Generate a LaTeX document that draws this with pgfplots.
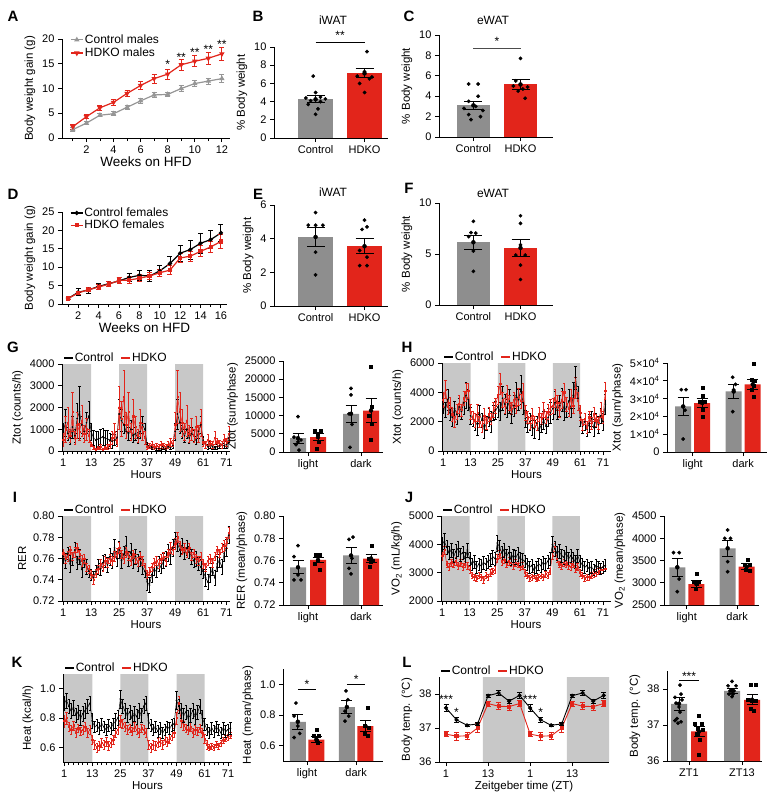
\documentclass[border=0pt]{standalone}
\usepackage{fontspec}
\setmainfont{Liberation Sans}
\usepackage{pgfplots}
\usepackage{pgfplotstable}
\pgfplotsset{compat=1.18}
\definecolor{myred}{RGB}{226,37,27}
\definecolor{bargray}{RGB}{142,142,142}
\definecolor{shadegray}{RGB}{200,200,200}
\definecolor{lgray}{RGB}{150,150,150}

\pgfplotsset{
  base/.style={scale only axis, anchor=south west, axis lines=left,
    axis line style={-, line width=0.9pt, black},
    tick align=outside, major tick length=4pt, minor tick length=3pt,
    tick style={black, line width=0.8pt},
    tick label style={font=\fontsize{11}{12}\selectfont},
    label style={font=\fontsize{11.5}{13}\selectfont},
    /pgf/number format/assume math mode=true, /pgf/number format/1000 sep={},
    scaled ticks=false, enlargelimits=false,
    xlabel style={yshift=3pt}},
  tslegend/.style={legend columns=2,
    legend style={at={(0,1)}, anchor=south west, xshift=1pt, draw=none, fill=none, inner sep=0pt,
      font=\fontsize{12}{13}\selectfont, /tikz/every even column/.append style={column sep=6pt},
      nodes={inner sep=1pt}},
    legend image code/.code={\draw[#1, line width=1.6pt] (0pt,0pt) -- (9pt,0pt);}},
  ts/.style={base, tslegend, axis on top, xmin=0.5, xtick={1,13,25,37,49,61,71},
    minor xtick={3,5,...,71}, xlabel={Hours}},
  ctl/.style={black, line width=0.5pt, mark=*, mark size=0.6pt, forget plot,
    error bars/.cd, y dir=both, y explicit, error bar style={line width=0.4pt, black},
    error mark options={rotate=90, mark size=1.2pt, line width=0.4pt, black}},
  hdk/.style={myred, line width=0.5pt, mark=square*, mark size=0.6pt, forget plot,
    error bars/.cd, y dir=both, y explicit, error bar style={line width=0.4pt, myred},
    error mark options={rotate=90, mark size=1.2pt, line width=0.4pt, myred}},
  errbar/.style={only marks, mark=none, black, forget plot,
    error bars/.cd, y dir=both, y explicit, error bar style={line width=1pt, black},
    error mark options={rotate=90, mark size=#1, line width=1pt, black}},
  errbar/.default=9pt,
  cdots/.style={only marks, mark=*, mark size=1.7pt, black, forget plot},
  hdots/.style={only marks, mark=square*, mark size=1.5pt, black, forget plot},
  gbar/.style={ybar, bar width=#1, bar shift=0pt, fill=bargray, draw=none, forget plot},
  rbar/.style={ybar, bar width=#1, bar shift=0pt, fill=myred, draw=none, forget plot},
  grp/.style={base, xtick={0.5,3.15}},
}

\pgfplotstableread{
w c ce k ke
1 1.7 0.4 2.3 0.5
2 3.0 0.3 4.3 0.4
3 4.6 0.3 6.1 0.5
4 4.9 0.4 7.2 0.6
5 6.2 0.4 9.0 0.7
6 7.5 0.5 10.6 0.8
7 8.7 0.5 12.0 0.9
8 8.8 0.5 12.9 1.0
9 10.0 0.6 14.8 1.1
10 11.0 0.6 15.5 1.1
11 11.5 0.6 16.1 1.2
12 12.0 0.8 17.0 1.3
}\Atab

\pgfplotstableread{
w c ce k ke
1 1.5 0.3 1.5 0.3
2 3.2 0.9 3.0 0.5
3 3.8 0.8 3.9 0.6
4 4.8 0.8 4.6 0.6
5 5.5 0.7 5.4 0.6
6 6.3 0.8 6.4 0.8
7 7.2 1.2 6.5 0.9
8 7.8 1.3 7.0 1.0
9 7.6 1.5 7.6 1.0
10 9.0 1.4 8.5 1.0
11 11.0 1.8 9.2 1.2
12 13.8 2.2 12.5 1.2
13 14.8 2.6 13.0 1.4
14 16.5 2.8 14.3 1.5
15 17.5 2.5 15.5 1.6
16 19.3 2.3 17.0 1.9
}\Dtab

\pgfplotstableread{
h c ce k ke
1 900 400 500 300
2 1300 600 1000 600
3 800 300 1300 700
4 600 300 700 300
5 1100 500 1800 900
6 700 300 600 300
7 1500 700 1200 600
8 1800 1200 900 400
9 1200 400 1400 700
10 900 300 800 400
11 1300 500 1000 500
12 1600 700 700 300
13 900 400 300 100
14 600 350 150 80
15 500 400 100 50
16 550 350 150 60
17 600 400 200 100
18 650 400 100 50
19 600 350 150 80
20 550 400 200 100
21 500 300 300 150
22 450 300 600 300
23 500 250 900 400
24 600 300 400 200
25 1700 700 2000 1000
26 1400 500 1500 800
27 1200 400 2500 1200
28 900 300 1200 600
29 800 300 1800 900
30 1000 400 900 400
31 700 300 1600 800
32 800 300 1100 500
33 600 250 700 300
34 900 300 1300 600
35 1200 400 900 400
36 1000 300 600 300
37 300 100 200 100
38 200 80 250 120
39 150 60 300 150
40 150 60 200 100
41 100 50 250 120
42 120 60 200 100
43 100 50 300 150
44 150 60 250 120
45 100 50 200 100
46 200 80 300 150
47 150 60 400 200
48 250 100 350 150
49 900 400 1200 600
50 1700 700 2500 1200
51 1300 500 1800 900
52 900 300 1300 600
53 700 300 900 400
54 1000 400 1400 700
55 600 250 800 400
56 800 300 1000 500
57 700 250 700 300
58 500 200 1100 500
59 900 300 800 400
60 1200 400 1300 600
61 500 200 400 200
62 300 150 300 150
63 200 100 500 250
64 300 150 350 150
65 200 100 300 150
66 150 80 600 300
67 200 100 400 200
68 250 100 350 150
69 300 150 300 150
70 250 100 500 250
71 300 150 400 200
72 600 200 800 350
}\Gtab

\pgfplotstableread{
h c ce k ke
1 3200 600 3500 500
2 2800 500 4200 600
3 3500 700 3000 500
4 2600 500 3300 400
5 2300 600 2500 500
6 2900 500 2000 400
7 2500 700 2700 500
8 3000 600 3200 600
9 2700 500 2800 400
10 3300 800 3600 500
11 3800 900 4000 600
12 3500 700 4100 500
13 2400 600 2700 500
14 2200 500 2300 400
15 2000 600 2100 500
16 1800 700 2600 600
17 2500 600 2000 400
18 2100 500 1700 400
19 1500 600 2400 500
20 1900 500 1900 400
21 2300 600 2500 500
22 2000 700 2200 400
23 2600 500 2800 500
24 2800 600 3100 500
25 3000 700 3800 600
26 2700 600 4600 700
27 3600 800 3500 500
28 3200 700 3100 500
29 2900 600 3900 600
30 3400 800 3300 500
31 2500 600 2900 400
32 3100 700 3500 500
33 3800 900 3100 500
34 3500 700 3700 600
35 4200 1000 3400 500
36 3300 800 4000 600
37 2200 600 2600 500
38 1800 500 2300 400
39 2000 600 1900 400
40 1600 500 2400 500
41 1500 600 2000 400
42 1900 500 1800 400
43 1400 600 2500 500
44 1800 500 2200 400
45 2100 600 2800 500
46 1700 500 2300 400
47 2300 600 2700 500
48 2600 700 3000 500
49 2900 700 3100 500
50 3300 800 3600 600
51 2800 600 3300 500
52 3100 700 2800 500
53 3500 800 3500 600
54 2700 600 4000 600
55 3000 700 3200 500
56 3400 800 2900 500
57 2900 600 3600 600
58 3800 900 3100 500
59 5000 800 4300 700
60 3600 800 3400 600
61 2300 600 2600 500
62 1700 500 1800 400
63 2000 600 2200 400
64 1500 500 1600 400
65 1900 600 2300 400
66 2200 500 1900 400
67 1600 600 2500 500
68 2100 500 2100 400
69 1800 600 1900 400
70 2400 500 2800 500
71 2000 600 2300 400
72 3200 700 4100 600
}\Htab

\pgfplotstableread{
h c ce k ke
1 0.762 0.006 0.765 0.004
2 0.758 0.007 0.760 0.004
3 0.765 0.006 0.762 0.005
4 0.755 0.008 0.768 0.004
5 0.760 0.006 0.762 0.004
6 0.768 0.007 0.766 0.005
7 0.756 0.006 0.770 0.004
8 0.762 0.007 0.764 0.004
9 0.750 0.008 0.758 0.005
10 0.758 0.006 0.760 0.004
11 0.752 0.007 0.752 0.004
12 0.748 0.006 0.750 0.004
13 0.745 0.005 0.745 0.004
14 0.742 0.006 0.740 0.004
15 0.748 0.006 0.746 0.004
16 0.752 0.007 0.750 0.004
17 0.750 0.006 0.755 0.004
18 0.756 0.007 0.752 0.004
19 0.758 0.006 0.758 0.004
20 0.754 0.007 0.756 0.004
21 0.762 0.008 0.760 0.004
22 0.758 0.007 0.758 0.004
23 0.770 0.008 0.762 0.005
24 0.760 0.007 0.765 0.005
25 0.768 0.008 0.770 0.005
26 0.758 0.007 0.764 0.004
27 0.764 0.008 0.760 0.004
28 0.772 0.009 0.766 0.005
29 0.760 0.007 0.762 0.004
30 0.766 0.008 0.758 0.004
31 0.758 0.007 0.764 0.004
32 0.762 0.007 0.760 0.004
33 0.756 0.008 0.757 0.004
34 0.760 0.007 0.762 0.004
35 0.752 0.007 0.758 0.004
36 0.748 0.006 0.752 0.004
37 0.738 0.008 0.745 0.004
38 0.735 0.007 0.748 0.004
39 0.745 0.007 0.752 0.004
40 0.750 0.006 0.756 0.004
41 0.748 0.006 0.758 0.004
42 0.755 0.007 0.755 0.004
43 0.752 0.006 0.760 0.004
44 0.758 0.007 0.762 0.004
45 0.760 0.007 0.758 0.004
46 0.765 0.008 0.765 0.004
47 0.762 0.007 0.770 0.005
48 0.770 0.008 0.768 0.004
49 0.778 0.007 0.774 0.005
50 0.774 0.007 0.780 0.005
51 0.768 0.006 0.772 0.004
52 0.772 0.007 0.768 0.004
53 0.765 0.006 0.770 0.004
54 0.770 0.007 0.765 0.004
55 0.766 0.006 0.770 0.004
56 0.762 0.007 0.762 0.004
57 0.758 0.006 0.765 0.004
58 0.760 0.007 0.760 0.004
59 0.755 0.006 0.758 0.004
60 0.752 0.007 0.762 0.004
61 0.748 0.007 0.755 0.004
62 0.742 0.008 0.752 0.004
63 0.738 0.007 0.758 0.004
64 0.745 0.007 0.760 0.004
65 0.750 0.006 0.756 0.004
66 0.742 0.007 0.762 0.004
67 0.755 0.007 0.768 0.004
68 0.758 0.006 0.765 0.004
69 0.752 0.007 0.770 0.004
70 0.765 0.008 0.772 0.005
71 0.770 0.008 0.775 0.005
72 0.782 0.008 0.784 0.005
}\Itab

\pgfplotstableread{
h c ce k ke
1 4000 250 3600 150
2 4100 280 3800 150
3 3900 250 3300 120
4 3700 220 3200 120
5 3800 250 3350 130
6 3600 220 3300 120
7 3750 250 3400 130
8 3850 260 3250 120
9 3650 230 3350 120
10 3700 240 3200 120
11 3500 220 3300 120
12 3800 250 3250 120
13 3500 230 3100 120
14 3300 220 2900 110
15 3400 230 2850 110
16 3200 220 2800 110
17 3300 220 2900 110
18 3250 220 2850 110
19 3350 230 2750 110
20 3300 220 2900 110
21 3400 230 2850 110
22 3450 230 3000 120
23 3550 240 3050 120
24 3500 230 3100 120
25 4050 280 3500 140
26 3900 260 3650 140
27 3700 250 3400 130
28 3800 250 3450 130
29 3600 240 3300 120
30 3700 250 3400 130
31 3500 230 3350 120
32 3600 240 3250 120
33 3550 240 3350 120
34 3650 250 3300 120
35 3500 230 3200 120
36 3450 230 3250 120
37 3400 220 3000 110
38 3300 220 2900 110
39 3200 210 2800 110
40 3250 220 2850 110
41 3100 210 2900 110
42 3200 210 2800 110
43 3300 220 2850 110
44 3250 220 2900 110
45 3350 220 2850 110
46 3300 220 2950 110
47 3400 230 2900 110
48 3500 230 3050 120
49 4000 280 3600 140
50 3850 260 3900 150
51 3700 250 3500 130
52 3750 250 3300 120
53 3600 240 3250 120
54 3550 240 3350 120
55 3700 250 3300 120
56 3500 230 3250 120
57 3600 240 3200 120
58 3500 230 3300 120
59 3400 230 3150 120
60 3600 240 3200 120
61 3400 220 3000 110
62 3300 220 2900 110
63 3200 210 2800 110
64 3250 210 2850 110
65 3150 210 2850 110
66 3200 210 2900 110
67 3100 200 2950 110
68 3250 210 3000 110
69 3200 200 3050 110
70 3150 200 3100 110
71 3200 210 3100 110
72 3250 210 3150 110
}\Jtab

\pgfplotstableread{
h c ce k ke
1 0.90 0.05 0.78 0.04
2 0.92 0.05 0.80 0.04
3 0.88 0.05 0.74 0.03
4 0.85 0.05 0.72 0.03
5 0.87 0.05 0.75 0.03
6 0.82 0.05 0.70 0.03
7 0.84 0.05 0.73 0.03
8 0.80 0.05 0.71 0.03
9 0.83 0.05 0.72 0.03
10 0.85 0.05 0.74 0.03
11 0.88 0.05 0.70 0.03
12 0.90 0.05 0.72 0.03
13 0.78 0.05 0.65 0.03
14 0.74 0.04 0.62 0.03
15 0.75 0.04 0.60 0.03
16 0.73 0.04 0.61 0.03
17 0.76 0.04 0.63 0.03
18 0.74 0.04 0.62 0.03
19 0.72 0.04 0.64 0.03
20 0.75 0.04 0.61 0.03
21 0.73 0.04 0.63 0.03
22 0.76 0.04 0.65 0.03
23 0.78 0.05 0.70 0.03
24 0.80 0.05 0.72 0.03
25 0.93 0.06 0.78 0.04
26 0.88 0.05 0.76 0.03
27 0.85 0.05 0.74 0.03
28 0.82 0.05 0.72 0.03
29 0.84 0.05 0.73 0.03
30 0.80 0.05 0.71 0.03
31 0.83 0.05 0.74 0.03
32 0.81 0.05 0.72 0.03
33 0.85 0.05 0.70 0.03
34 0.82 0.05 0.73 0.03
35 0.88 0.05 0.72 0.03
36 0.90 0.05 0.70 0.03
37 0.78 0.05 0.62 0.03
38 0.75 0.04 0.60 0.03
39 0.72 0.04 0.62 0.03
40 0.74 0.04 0.61 0.03
41 0.71 0.04 0.63 0.03
42 0.73 0.04 0.64 0.03
43 0.70 0.04 0.62 0.03
44 0.72 0.04 0.65 0.03
45 0.74 0.04 0.64 0.03
46 0.73 0.04 0.66 0.03
47 0.75 0.04 0.68 0.03
48 0.76 0.04 0.70 0.03
49 0.92 0.06 0.80 0.04
50 0.88 0.05 0.90 0.05
51 0.85 0.05 0.78 0.04
52 0.82 0.05 0.75 0.03
53 0.84 0.05 0.73 0.03
54 0.80 0.05 0.72 0.03
55 0.82 0.05 0.74 0.03
56 0.85 0.05 0.70 0.03
57 0.81 0.05 0.72 0.03
58 0.84 0.05 0.71 0.03
59 0.88 0.05 0.73 0.03
60 0.80 0.05 0.70 0.03
61 0.76 0.04 0.66 0.03
62 0.72 0.04 0.62 0.03
63 0.70 0.04 0.60 0.02
64 0.73 0.04 0.61 0.02
65 0.71 0.04 0.60 0.02
66 0.74 0.04 0.62 0.02
67 0.72 0.04 0.61 0.02
68 0.70 0.04 0.63 0.02
69 0.73 0.04 0.65 0.02
70 0.71 0.04 0.66 0.02
71 0.72 0.04 0.67 0.02
72 0.73 0.04 0.68 0.02
}\Ktab

\pgfplotstableread{
x c ce k ke
1 37.59 0.10 36.82 0.08
4 37.24 0.08 36.76 0.12
7 37.08 0.04 36.77 0.10
10 37.12 0.05 37.00 0.13
13 37.95 0.04 37.72 0.07
16 38.03 0.07 37.64 0.10
19 37.79 0.06 37.63 0.10
22 37.96 0.09 37.72 0.08
25 37.59 0.10 36.82 0.08
28 37.24 0.08 36.76 0.12
31 37.08 0.04 36.77 0.10
34 37.12 0.05 37.00 0.13
37 37.95 0.04 37.72 0.07
40 38.03 0.07 37.64 0.10
43 37.79 0.06 37.63 0.10
46 37.96 0.09 37.72 0.08
}\Ltab

\begin{document}
\begin{tikzpicture}
\path[use as bounding box] (0,0) rectangle (768pt,-795pt);

% panel letters and titles
\begin{scope}[every node/.style={font=\bfseries\fontsize{15}{17}\selectfont}]
\node at (13pt,-16pt) {A};
\node at (258pt,-16pt) {B};
\node at (409pt,-16pt) {C};
\node at (13pt,-194pt) {D};
\node at (258pt,-194pt) {E};
\node at (409pt,-188pt) {F};
\node at (13pt,-347pt) {G};
\node at (407pt,-347pt) {H};
\node at (15pt,-497pt) {I};
\node at (409pt,-497pt) {J};
\node at (17pt,-662pt) {K};
\node at (407pt,-662pt) {L};
\end{scope}
\begin{scope}[every node/.style={font=\fontsize{12}{14}\selectfont}]
\node at (333pt,-20pt) {iWAT};
\node at (493pt,-20pt) {eWAT};
\node at (333pt,-192pt) {iWAT};
\node at (493pt,-193pt) {eWAT};
\end{scope}

% ---------- A ----------
\begin{axis}[base, at={(62pt,-138pt)}, width=168pt, height=99pt,
  xmin=0.2, xmax=12.6, ymin=0, ymax=20, xtick={2,4,...,12}, minor xtick={1,3,...,11},
  ytick={0,5,...,20}, xlabel={Weeks on HFD}, ylabel={Body weight gain (g)}, clip=false,
  xlabel style={font=\fontsize{13.5}{15}\selectfont},
  legend style={at={(0.03,1.08)}, anchor=north west, draw=none, fill=none,
    font=\fontsize{12}{13}\selectfont, nodes={inner sep=1.5pt}},
  legend cell align=left,
  legend image code/.code={\draw[mark repeat=2,mark phase=2,#1] plot coordinates {(0pt,0pt)(6pt,0pt)(12pt,0pt)};}]
\addlegendimage{lgray, line width=1.2pt, mark=triangle*, mark size=2pt}
\addlegendentry{Control males}
\addlegendimage{myred, line width=1.2pt, mark=triangle*, mark size=2pt, mark options={rotate=180}}
\addlegendentry{HDKO males}
\addplot[lgray, line width=1.2pt, mark=triangle*, mark size=2pt, forget plot,
  error bars/.cd, y dir=both, y explicit, error bar style={line width=0.9pt, lgray},
  error mark options={rotate=90, mark size=2.5pt, line width=0.9pt, lgray}]
  table[x=w, y=c, y error=ce] {\Atab};
\addplot[myred, line width=1.2pt, mark=triangle*, mark size=2pt, mark options={rotate=180}, forget plot,
  error bars/.cd, y dir=both, y explicit, error bar style={line width=0.9pt, myred},
  error mark options={rotate=90, mark size=2.5pt, line width=0.9pt, myred}]
  table[x=w, y=k, y error=ke] {\Atab};
\node[font=\fontsize{12}{12}\selectfont] at (axis cs:8,14.8) {*};
\node[font=\fontsize{12}{12}\selectfont] at (axis cs:9,16.3) {**};
\node[font=\fontsize{12}{12}\selectfont] at (axis cs:10,17.2) {**};
\node[font=\fontsize{12}{12}\selectfont] at (axis cs:11,17.9) {**};
\node[font=\fontsize{12}{12}\selectfont] at (axis cs:12,19.0) {**};
\end{axis}

% ---------- B ----------
\begin{axis}[base, at={(274pt,-138pt)}, width=114pt, height=91pt,
  xmin=-0.85, xmax=1.48, ymin=0, ymax=10, ytick={0,2,...,10}, xtick={0,1},
  xticklabels={Control,HDKO}, ylabel={\% Body weight}, clip=false]
\addplot[gbar=35pt] coordinates {(0,4.25)};
\addplot[rbar=35pt] coordinates {(1,7.1)};
\addplot[cdots] coordinates {(-0.05,6.8)(0.0,5.0)(0.1,4.5)(0.2,4.3)(-0.1,4.1)(0.1,4.0)(-0.15,3.7)(0.05,3.2)(0.0,2.6)(-0.2,4.4)};
\addplot[cdots] coordinates {(1.05,9.5)(1.0,7.3)(0.85,6.8)(1.15,6.7)(1.1,6.5)(0.9,6.0)(1.0,5.0)};
\addplot[errbar=9pt] coordinates {(0,4.25) +- (0,0.4) (1,7.1) +- (0,0.5)};
\draw[line width=0.9pt] (axis cs:0,10.5) -- (axis cs:1,10.5);
\node[font=\fontsize{12}{12}\selectfont] at (axis cs:0.5,11.3) {**};
\end{axis}

% ---------- C ----------
\begin{axis}[base, at={(439pt,-137pt)}, width=114pt, height=102pt,
  xmin=-0.73, xmax=1.69, ymin=0, ymax=10, ytick={0,2,...,10}, xtick={0,1},
  xticklabels={Control,HDKO}, ylabel={\% Body weight}, clip=false]
\addplot[gbar=33pt] coordinates {(0,3.1)};
\addplot[rbar=33pt] coordinates {(1,5.15)};
\addplot[cdots] coordinates {(-0.1,5.2)(0.1,5.2)(0.1,4.0)(-0.1,3.5)(0.05,3.0)(-0.2,2.8)(0.2,2.6)(-0.1,2.2)(0.15,2.0)(-0.05,1.7)};
\addplot[cdots] coordinates {(1.0,7.7)(0.9,5.5)(0.85,5.0)(1.15,4.9)(1.05,4.7)(0.95,4.5)(1.1,3.8)};
\addplot[errbar=9pt] coordinates {(0,3.1) +- (0,0.4) (1,5.15) +- (0,0.45)};
\draw[line width=0.9pt, black!70] (axis cs:0,8.7) -- (axis cs:1,8.7);
\node[font=\fontsize{12}{12}\selectfont] at (axis cs:0.5,9.4) {*};
\end{axis}

% ---------- D ----------
\begin{axis}[base, at={(62pt,-304pt)}, width=165pt, height=92pt,
  xmin=0.4, xmax=16.6, ymin=0, ymax=25, xtick={2,4,...,16}, minor xtick={1,3,...,15},
  ytick={0,5,...,25}, xlabel={Weeks on HFD}, ylabel={Body weight gain (g)}, clip=false,
  xlabel style={font=\fontsize{13.5}{15}\selectfont},
  legend style={at={(0.03,1.08)}, anchor=north west, draw=none, fill=none,
    font=\fontsize{12}{13}\selectfont, nodes={inner sep=1pt}},
  legend cell align=left,
  legend image code/.code={\draw[mark repeat=2,mark phase=2,#1] plot coordinates {(0pt,0pt)(6pt,0pt)(12pt,0pt)};}]
\addlegendimage{black, line width=1.2pt, mark=*, mark size=1.5pt}
\addlegendentry{Control females}
\addlegendimage{myred, line width=1.2pt, mark=square*, mark size=1.5pt}
\addlegendentry{HDKO females}
\addplot[black, line width=1.2pt, mark=*, mark size=1.5pt, forget plot,
  error bars/.cd, y dir=both, y explicit, error bar style={line width=0.9pt, black},
  error mark options={rotate=90, mark size=2.5pt, line width=0.9pt, black}]
  table[x=w, y=c, y error=ce] {\Dtab};
\addplot[myred, line width=1.2pt, mark=square*, mark size=1.5pt, forget plot,
  error bars/.cd, y dir=both, y explicit, error bar style={line width=0.9pt, myred},
  error mark options={rotate=90, mark size=2.5pt, line width=0.9pt, myred}]
  table[x=w, y=k, y error=ke] {\Dtab};
\end{axis}

% ---------- E ----------
\begin{axis}[base, at={(274pt,-306pt)}, width=114pt, height=101pt,
  xmin=-0.85, xmax=1.48, ymin=0, ymax=6, ytick={0,2,4,6}, xtick={0,1},
  xticklabels={Control,HDKO}, ylabel={\% Body weight}, clip=false]
\addplot[gbar=35pt] coordinates {(0,4.1)};
\addplot[rbar=35pt] coordinates {(1,3.55)};
\addplot[cdots] coordinates {(0.0,5.55)(-0.15,4.8)(0.0,4.8)(0.15,4.8)(0.0,3.2)(0.0,1.85)};
\addplot[cdots] coordinates {(1.0,5.1)(1.05,4.7)(0.95,4.55)(0.9,3.3)(1.05,2.9)(0.9,2.4)(1.05,2.4)};
\addplot[errbar=9pt] coordinates {(0,4.1) +- (0,0.55) (1,3.55) +- (0,0.45)};
\end{axis}

% ---------- F ----------
\begin{axis}[base, at={(439pt,-305pt)}, width=114pt, height=102pt,
  xmin=-0.73, xmax=1.69, ymin=0, ymax=10, ytick={0,5,10}, xtick={0,1},
  xticklabels={Control,HDKO}, ylabel={\% Body weight}, clip=false]
\addplot[gbar=33pt] coordinates {(0,6.15)};
\addplot[rbar=33pt] coordinates {(1,5.6)};
\addplot[cdots] coordinates {(0.0,8.2)(-0.05,7.1)(0.05,7.05)(-0.1,6.7)(0.0,5.3)(0.0,3.3)};
\addplot[cdots] coordinates {(1.0,8.75)(1.0,8.0)(1.0,5.9)(0.9,4.9)(1.1,4.9)(1.0,3.9)(1.0,2.5)};
\addplot[errbar=9pt] coordinates {(0,6.15) +- (0,0.7) (1,5.6) +- (0,0.85)};
\end{axis}

% ---------- G ----------
\begin{axis}[ts, at={(62pt,-451pt)}, width=168pt, height=87pt, xmax=72.5,
  ymin=0, ymax=4000, ytick={0,1000,...,4000}, ylabel={Ztot (counts/h)}]
\addlegendimage{black}\addlegendentry{Control}
\addlegendimage{myred}\addlegendentry{HDKO}
\fill[shadegray] (axis cs:1,0) rectangle (axis cs:13,4000) (axis cs:25,0) rectangle (axis cs:37,4000) (axis cs:49,0) rectangle (axis cs:61,4000);
\addplot[ctl] table[x=h, y=c, y error=ce] {\Gtab};
\addplot[hdk] table[x=h, y=k, y error=ke] {\Gtab};
\end{axis}

\begin{axis}[grp, at={(283pt,-452pt)}, width=100pt, height=91pt,
  xmin=-0.75, xmax=4.25, ymin=0, ymax=25000, ytick={0,5000,...,25000},
  xticklabels={light,dark}, ylabel={Ztot (sum/phase)}]
\addplot[gbar=16pt] coordinates {(0,3800)(2.65,10500)};
\addplot[rbar=16pt] coordinates {(1,4100)(3.65,11400)};
\addplot[cdots] coordinates {(0,9700)(-0.2,4100)(0.15,3300)(0.0,2800)(-0.1,2000)(0.05,500)(2.65,17500)(2.65,15700)(2.55,10500)(2.7,7600)(2.6,1300)};
\addplot[hdots] coordinates {(0.85,5800)(1.15,5800)(1.0,5000)(1.05,2800)(0.95,900)(3.65,23500)(3.7,12500)(3.55,10000)(3.7,7700)(3.65,3500)};
\addplot[errbar=5.5pt] coordinates {(0,3800) +- (0,1400) (1,4100) +- (0,1000) (2.65,10500) +- (0,2300) (3.65,11400) +- (0,3300)};
\end{axis}

% ---------- H ----------
\begin{axis}[ts, at={(442pt,-451pt)}, width=169pt, height=88pt, xmax=74.5,
  ymin=0, ymax=6000, ytick={0,2000,4000,6000}, ylabel={Xtot (counts/h)}]
\addlegendimage{black}\addlegendentry{Control}
\addlegendimage{myred}\addlegendentry{HDKO}
\fill[shadegray] (axis cs:1,0) rectangle (axis cs:13,6000) (axis cs:25,0) rectangle (axis cs:37,6000) (axis cs:49,0) rectangle (axis cs:61,6000);
\addplot[ctl] table[x=h, y=c, y error=ce] {\Htab};
\addplot[hdk] table[x=h, y=k, y error=ke] {\Htab};
\end{axis}

\begin{axis}[grp, at={(667pt,-452pt)}, width=100pt, height=89pt,
  xmin=-0.85, xmax=4.4, ymin=0, ymax=50000, ytick={0,10000,...,50000},
  yticklabels={0,1×10\textsuperscript{4},2×10\textsuperscript{4},3×10\textsuperscript{4},4×10\textsuperscript{4},5×10\textsuperscript{4}},
  xticklabels={light,dark}, ylabel={Xtot (sum/phase)}]
\addplot[gbar=16pt] coordinates {(0,25600)(2.65,34000)};
\addplot[rbar=16pt] coordinates {(1,27500)(3.65,38000)};
\addplot[cdots] coordinates {(-0.1,35000)(0.15,35000)(0,25600)(0.1,23500)(0,7300)(2.6,42000)(2.75,38000)(2.65,35000)(2.6,22700)};
\addplot[hdots] coordinates {(1.0,36000)(1.05,31800)(0.85,28000)(1.15,28000)(1.0,24000)(1.05,20000)(3.7,49500)(3.6,40700)(3.75,40000)(3.7,37500)(3.6,35000)(3.7,31000)};
\addplot[errbar=5.5pt] coordinates {(0,25600) +- (0,5000) (1,27500) +- (0,2500) (2.65,34000) +- (0,4000) (3.65,38000) +- (0,3000)};
\end{axis}

% ---------- I ----------
\begin{axis}[ts, at={(62pt,-601pt)}, width=168pt, height=85pt, xmax=72.5,
  ymin=0.72, ymax=0.80, ytick={0.72,0.74,...,0.80}, ylabel={RER},
  yticklabel style={/pgf/number format/.cd, fixed, fixed zerofill, precision=2}]
\addlegendimage{black}\addlegendentry{Control}
\addlegendimage{myred}\addlegendentry{HDKO}
\fill[shadegray] (axis cs:1,0.72) rectangle (axis cs:13,0.80) (axis cs:25,0.72) rectangle (axis cs:37,0.80) (axis cs:49,0.72) rectangle (axis cs:61,0.80);
\addplot[ctl] table[x=h, y=c, y error=ce] {\Itab};
\addplot[hdk] table[x=h, y=k, y error=ke] {\Itab};
\end{axis}

\begin{axis}[grp, at={(283pt,-605pt)}, width=100pt, height=89pt,
  xmin=-0.75, xmax=4.25, ymin=0.72, ymax=0.80, ytick={0.72,0.74,...,0.80},
  yticklabel style={/pgf/number format/.cd, fixed, fixed zerofill, precision=2},
  xticklabels={light,dark}, ylabel={RER (mean/phase)}]
\addplot[gbar=16pt] coordinates {(0,0.7539)(2.65,0.7645)};
\addplot[rbar=16pt] coordinates {(1,0.7605)(3.65,0.7618)};
\addplot[cdots] coordinates {(0,0.7733)(-0.2,0.7635)(0,0.747)(-0.2,0.7425)(0.15,0.7425)(2.55,0.779)(2.75,0.781)(2.7,0.762)(2.55,0.753)(2.65,0.748)};
\addplot[hdots] coordinates {(0.9,0.7655)(1.1,0.7655)(1.0,0.760)(0.85,0.7574)(1.1,0.752)(3.7,0.773)(3.55,0.762)(3.75,0.760)(3.65,0.759)(3.6,0.7545)};
\addplot[errbar=5.5pt] coordinates {(0,0.7539) +- (0,0.006) (1,0.7605) +- (0,0.0025) (2.65,0.7645) +- (0,0.007) (3.65,0.7618) +- (0,0.0035)};
\end{axis}

% ---------- J ----------
\begin{axis}[ts, at={(441pt,-601pt)}, width=170pt, height=85pt, xmax=74.5,
  ymin=2000, ymax=5000, ytick={2000,3000,4000,5000}, ylabel={VO\textsubscript{2} (mL/kg/h)}]
\addlegendimage{black}\addlegendentry{Control}
\addlegendimage{myred}\addlegendentry{HDKO}
\fill[shadegray] (axis cs:1,2000) rectangle (axis cs:13,5000) (axis cs:25,2000) rectangle (axis cs:37,5000) (axis cs:49,2000) rectangle (axis cs:61,5000);
\addplot[hdk] table[x=h, y=k, y error=ke] {\Jtab};
\addplot[ctl] table[x=h, y=c, y error=ce] {\Jtab};
\end{axis}

\begin{axis}[grp, at={(664pt,-605pt)}, width=95pt, height=89pt,
  xmin=-0.7, xmax=4.3, ymin=2500, ymax=4500, ytick={2500,3000,...,4500},
  xticklabels={light,dark}, ylabel={VO\textsubscript{2} (mean/phase)}]
\addplot[gbar=16pt] coordinates {(0,3346)(2.65,3773)};
\addplot[rbar=16pt] coordinates {(1,2972)(3.65,3361)};
\addplot[cdots] coordinates {(-0.2,3676)(0.1,3676)(0,3361)(0.1,3084)(0,2800)(2.65,4185)(2.5,3998)(2.8,3998)(2.65,3474)(2.65,3249)};
\addplot[hdots] coordinates {(1,3212)(0.85,3025)(1.15,3025)(1,2972)(0.95,2875)(3.7,3511)(3.55,3399)(3.8,3399)(3.6,3287)(3.8,3272)};
\addplot[errbar=5.5pt] coordinates {(0,3346) +- (0,205) (1,2972) +- (0,85) (2.65,3773) +- (0,187) (3.65,3361) +- (0,70)};
\end{axis}

% ---------- K ----------
\begin{axis}[ts, at={(63pt,-762pt)}, width=169pt, height=88pt, xmax=72.7,
  ymin=0.5, ymax=1.1, ytick={0.6,0.8,1.0}, ylabel={Heat (kcal/h)},
  yticklabel style={/pgf/number format/.cd, fixed, fixed zerofill, precision=1}]
\addlegendimage{black}\addlegendentry{Control}
\addlegendimage{myred}\addlegendentry{HDKO}
\fill[shadegray] (axis cs:1,0.5) rectangle (axis cs:13,1.1) (axis cs:25,0.5) rectangle (axis cs:37,1.1) (axis cs:49,0.5) rectangle (axis cs:61,1.1);
\addplot[hdk] table[x=h, y=k, y error=ke] {\Ktab};
\addplot[ctl] table[x=h, y=c, y error=ce] {\Ktab};
\end{axis}

\begin{axis}[grp, at={(283pt,-761pt)}, width=100pt, height=92pt,
  xmin=-0.8, xmax=4.6, ymin=0.5, ymax=1.1, ytick={0.6,0.8,1.0},
  yticklabel style={/pgf/number format/.cd, fixed, fixed zerofill, precision=1},
  xticklabels={light,dark}, ylabel={Heat (mean/phase)}]
\addplot[gbar=16pt] coordinates {(0,0.756)(2.65,0.852)};
\addplot[rbar=16pt] coordinates {(1,0.640)(3.65,0.728)};
\addplot[cdots] coordinates {(-0.1,0.878)(-0.2,0.794)(0,0.728)(-0.2,0.653)(0.1,0.68)(2.6,0.957)(2.7,0.9)(2.55,0.825)(2.75,0.793)(2.55,0.76)};
\addplot[hdots] coordinates {(1,0.707)(0.85,0.664)(1.15,0.664)(1,0.632)(1.05,0.621)(3.75,0.846)(3.6,0.728)(3.85,0.718)(3.6,0.675)(3.8,0.664)};
\addplot[errbar=5.5pt] coordinates {(0,0.756) +- (0,0.048) (1,0.640) +- (0,0.022) (2.65,0.852) +- (0,0.045) (3.65,0.728) +- (0,0.035)};
\draw[line width=0.9pt] (axis cs:0,0.968) -- (axis cs:1,0.968);
\node[font=\fontsize{12}{12}\selectfont] at (axis cs:0.5,1.0) {*};
\draw[line width=0.9pt] (axis cs:2.65,1.0) -- (axis cs:3.65,1.0);
\node[font=\fontsize{12}{12}\selectfont] at (axis cs:3.15,1.032) {*};
\end{axis}

% ---------- L ----------
\begin{axis}[base, tslegend, axis on top, at={(439pt,-762pt)}, width=170pt, height=85pt,
  xmin=-1, xmax=47.5, ymin=36, ymax=38.5, xtick={1,13,25,37}, xticklabels={1,13,1,13},
  ytick={36,37,38}, xlabel={Zeitgeber time (ZT)}, ylabel={Body temp. (°C)}, clip=false]
\addlegendimage{black}\addlegendentry{Control}
\addlegendimage{myred}\addlegendentry{HDKO}
\fill[shadegray] (axis cs:11.5,36) rectangle (axis cs:23.5,38.5) (axis cs:35.5,36) rectangle (axis cs:47.5,38.5);
\addplot[myred, line width=0.9pt, mark=square*, mark size=1.6pt, forget plot,
  error bars/.cd, y dir=both, y explicit, error bar style={line width=0.8pt, myred},
  error mark options={rotate=90, mark size=2.5pt, line width=0.8pt, myred}]
  table[x=x, y=k, y error=ke] {\Ltab};
\addplot[black, line width=0.9pt, mark=*, mark size=1.6pt, forget plot,
  error bars/.cd, y dir=both, y explicit, error bar style={line width=0.8pt, black},
  error mark options={rotate=90, mark size=2.5pt, line width=0.8pt, black}]
  table[x=x, y=c, y error=ce] {\Ltab};
\node[font=\fontsize{12}{12}\selectfont] at (axis cs:1,37.84) {***};
\node[font=\fontsize{12}{12}\selectfont] at (axis cs:4,37.47) {*};
\node[font=\fontsize{12}{12}\selectfont] at (axis cs:25,37.84) {***};
\node[font=\fontsize{12}{12}\selectfont] at (axis cs:28,37.47) {*};
\end{axis}

\begin{axis}[base, at={(667pt,-761pt)}, width=95pt, height=90pt,
  xmin=-0.6, xmax=4.15, ymin=36, ymax=38.5, ytick={36,37,38}, xtick={0.5,3.15},
  xticklabels={ZT1,ZT13}, ylabel={Body temp. (°C)}]
\addplot[gbar=16pt] coordinates {(0,37.59)(2.65,37.95)};
\addplot[rbar=16pt] coordinates {(1,36.82)(3.65,37.70)};
\addplot[cdots] coordinates {(0.05,38.11)(0.1,37.86)(-0.2,37.77)(0.15,37.70)(-0.15,37.61)(0,37.50)(0.05,37.36)(-0.1,37.18)(-0.2,37.12)(0.1,37.09)(-0.05,37.05)(2.65,38.21)(2.45,38.09)(2.85,38.09)(2.55,37.95)(2.75,37.95)(2.5,37.86)(2.7,37.86)(2.65,37.79)};
\addplot[hdots] coordinates {(1,37.26)(0.8,37.03)(1.15,37.03)(0.95,36.9)(1.2,36.86)(0.9,36.77)(1.05,36.59)(1,36.17)(3.6,38.11)(3.85,38.11)(3.45,37.70)(3.65,37.68)(3.85,37.68)(3.6,37.45)(3.75,37.40)};
\addplot[errbar=5.5pt] coordinates {(0,37.59) +- (0,0.18) (1,36.82) +- (0,0.13) (2.65,37.95) +- (0,0.07) (3.65,37.70) +- (0,0.14)};
\draw[line width=0.9pt] (axis cs:0,38.25) -- (axis cs:1,38.25);
\node[font=\fontsize{12}{12}\selectfont] at (axis cs:0.5,38.36) {***};
\end{axis}
\end{tikzpicture}
\end{document}
